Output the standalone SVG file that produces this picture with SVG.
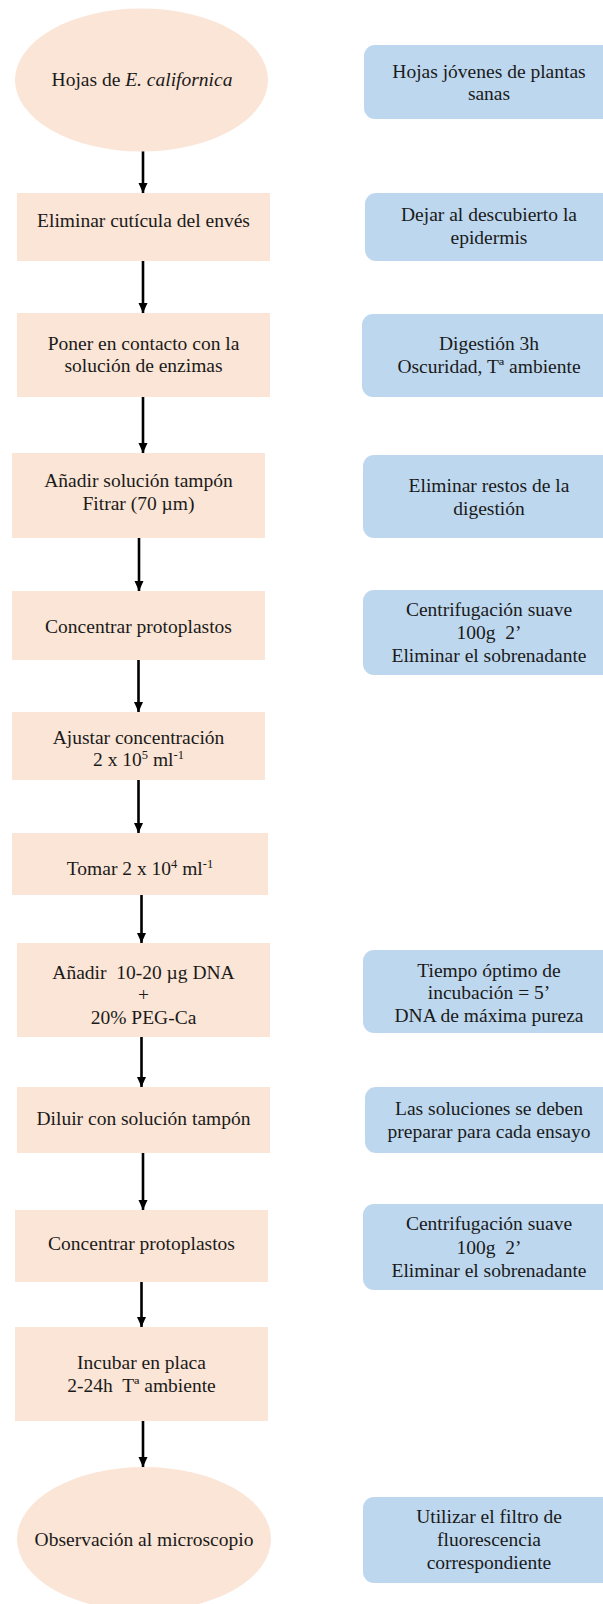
<svg xmlns="http://www.w3.org/2000/svg" width="603" height="1604" viewBox="0 0 603 1604">
<style>
.step{fill:#FBE5D6;}
.note{fill:#BDD7EE;}
text{font-family:"Liberation Serif","Times New Roman",serif;font-size:19.5px;fill:#1a1a1a;text-anchor:middle;}
.conn{stroke:#000;stroke-width:2.6;fill:none;}
</style>
<defs>
<marker id="ah" viewBox="0 0 10 10" refX="10" refY="5" markerWidth="10" markerHeight="10" markerUnits="userSpaceOnUse" orient="auto">
<path d="M0,0.5 L10,5 L0,9.5 z" fill="#000"/>
</marker>
</defs>
<rect width="603" height="1604" fill="#fff"/>

<g id="connectors">
<line class="conn" x1="143" y1="151" x2="143" y2="193" marker-end="url(#ah)"/>
<line class="conn" x1="143" y1="261" x2="143" y2="313" marker-end="url(#ah)"/>
<line class="conn" x1="143" y1="397" x2="143" y2="453" marker-end="url(#ah)"/>
<line class="conn" x1="139" y1="538" x2="139" y2="591" marker-end="url(#ah)"/>
<line class="conn" x1="138.5" y1="660" x2="138.5" y2="712" marker-end="url(#ah)"/>
<line class="conn" x1="138.5" y1="780" x2="138.5" y2="833" marker-end="url(#ah)"/>
<line class="conn" x1="141.5" y1="895" x2="141.5" y2="943" marker-end="url(#ah)"/>
<line class="conn" x1="141.5" y1="1037" x2="141.5" y2="1087" marker-end="url(#ah)"/>
<line class="conn" x1="143" y1="1153" x2="143" y2="1210" marker-end="url(#ah)"/>
<line class="conn" x1="141.5" y1="1282" x2="141.5" y2="1327" marker-end="url(#ah)"/>
<line class="conn" x1="143" y1="1421" x2="143" y2="1467" marker-end="url(#ah)"/>
</g>

<g id="n1">
<ellipse class="step" cx="141.5" cy="80" rx="126.5" ry="71.5"/>
<text x="142" y="86">Hojas de <tspan font-style="italic">E. californica</tspan></text>
</g>
<g id="b1">
<rect class="note" x="364" y="45" width="252" height="74" rx="11"/>
<text x="489" y="78">Hojas jóvenes de plantas</text>
<text x="489" y="100">sanas</text>
</g>

<g id="n2">
<rect class="step" x="17" y="193" width="253" height="68"/>
<text x="143.5" y="227">Eliminar cutícula del envés</text>
</g>
<g id="b2">
<rect class="note" x="365" y="193" width="251" height="68" rx="11"/>
<text x="489" y="221">Dejar al descubierto la</text>
<text x="489" y="244">epidermis</text>
</g>

<g id="n3">
<rect class="step" x="17" y="313" width="253" height="84"/>
<text x="143.5" y="349.5">Poner en contacto con la</text>
<text x="143.5" y="372">solución de enzimas</text>
</g>
<g id="b3">
<rect class="note" x="362" y="314" width="254" height="83" rx="11"/>
<text x="489" y="349.5">Digestión 3h</text>
<text x="489" y="372.5">Oscuridad, Tª ambiente</text>
</g>

<g id="n4">
<rect class="step" x="12" y="453" width="253" height="85"/>
<text x="138.5" y="486.5">Añadir solución tampón</text>
<text x="138.5" y="510">Fitrar (70 µm)</text>
</g>
<g id="b4">
<rect class="note" x="363" y="455" width="253" height="83" rx="11"/>
<text x="489" y="491.5">Eliminar restos de la</text>
<text x="489" y="514.5">digestión</text>
</g>

<g id="n5">
<rect class="step" x="12" y="591" width="253" height="69"/>
<text x="138.5" y="632.5">Concentrar protoplastos</text>
</g>
<g id="b5">
<rect class="note" x="363" y="590" width="253" height="85" rx="11"/>
<text x="489" y="615.5">Centrifugación suave</text>
<text x="489" y="639">100g&#160; 2’</text>
<text x="489" y="662">Eliminar el sobrenadante</text>
</g>

<g id="n6">
<rect class="step" x="12" y="712" width="253" height="68"/>
<text x="138.5" y="743.5">Ajustar concentración</text>
<text x="138.5" y="766">2 x 10<tspan font-size="12.5" dy="-7">5</tspan><tspan dy="7"> ml</tspan><tspan font-size="12.5" dy="-7">-1</tspan></text>
</g>

<g id="n7">
<rect class="step" x="12" y="833" width="256" height="62"/>
<text x="140" y="874.5">Tomar 2 x 10<tspan font-size="12.5" dy="-7">4</tspan><tspan dy="7"> ml</tspan><tspan font-size="12.5" dy="-7">-1</tspan></text>
</g>

<g id="n8">
<rect class="step" x="17" y="943" width="253" height="94"/>
<text x="143.5" y="978.5">Añadir&#160; 10-20 µg DNA</text>
<text x="143.5" y="1001">+</text>
<text x="143.5" y="1024">20% PEG-Ca</text>
</g>
<g id="b8">
<rect class="note" x="363" y="950" width="253" height="83" rx="11"/>
<text x="489" y="976.5">Tiempo óptimo de</text>
<text x="489" y="999">incubación = 5’</text>
<text x="489" y="1021.5">DNA de máxima pureza</text>
</g>

<g id="n9">
<rect class="step" x="17" y="1087" width="253" height="66"/>
<text x="143.5" y="1124.5">Diluir con solución tampón</text>
</g>
<g id="b9">
<rect class="note" x="365" y="1087" width="251" height="66" rx="11"/>
<text x="489" y="1114.5">Las soluciones se deben</text>
<text x="489" y="1138">preparar para cada ensayo</text>
</g>

<g id="n10">
<rect class="step" x="15" y="1210" width="253" height="72"/>
<text x="141.5" y="1249.5">Concentrar protoplastos</text>
</g>
<g id="b10">
<rect class="note" x="363" y="1204" width="253" height="86" rx="11"/>
<text x="489" y="1229.5">Centrifugación suave</text>
<text x="489" y="1253.5">100g&#160; 2’</text>
<text x="489" y="1276.5">Eliminar el sobrenadante</text>
</g>

<g id="n11">
<rect class="step" x="15" y="1327" width="253" height="94"/>
<text x="141.5" y="1368.5">Incubar en placa</text>
<text x="141.5" y="1391.5">2-24h&#160; Tª ambiente</text>
</g>

<g id="n12">
<ellipse class="step" cx="144" cy="1539" rx="127" ry="72"/>
<text x="144" y="1545.5">Observación al microscopio</text>
</g>
<g id="b12">
<rect class="note" x="363" y="1497" width="253" height="86" rx="11"/>
<text x="489" y="1522.5">Utilizar el filtro de</text>
<text x="489" y="1545.5">fluorescencia</text>
<text x="489" y="1568.5">correspondiente</text>
</g>
</svg>
